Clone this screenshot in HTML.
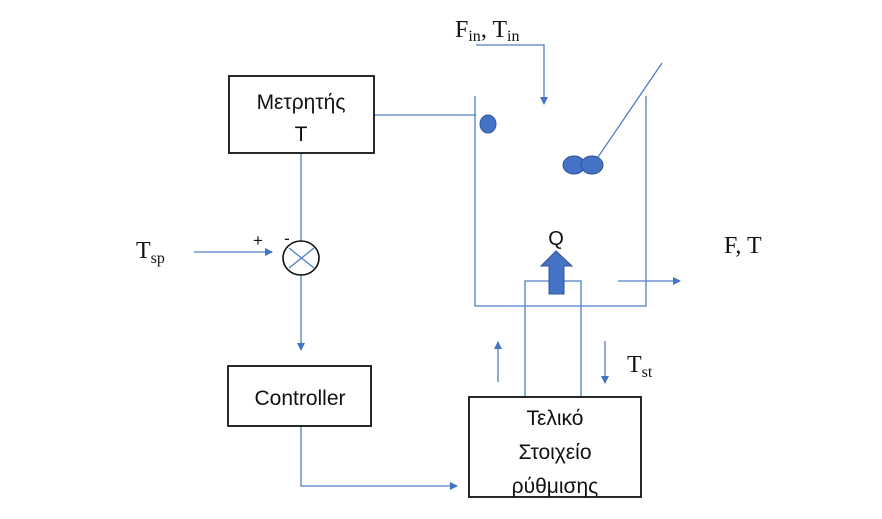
<!DOCTYPE html>
<html><head><meta charset="utf-8"><style>html,body{margin:0;padding:0;background:#fff}svg{display:block}</style></head>
<body>
<svg width="882" height="519" viewBox="0 0 882 519" xmlns="http://www.w3.org/2000/svg">
<defs>
<marker id="a" markerWidth="8" markerHeight="8" refX="7" refY="4" orient="auto" markerUnits="userSpaceOnUse"><path d="M0,0 L8,4 L0,8 z" fill="#4472c4"/></marker>
</defs>
<g stroke="#4f7fc4" stroke-width="1.3" fill="none">
<polyline points="475,96 475,306 646,306 646,96"/>
<polyline points="476,45 544,45 544,104" marker-end="url(#a)"/>
<line x1="662" y1="63" x2="596" y2="160"/>
<line x1="374" y1="115" x2="476" y2="115"/>
<line x1="301" y1="153" x2="301" y2="241"/>
<line x1="301" y1="275" x2="301" y2="350" marker-end="url(#a)"/>
<line x1="194" y1="252" x2="272" y2="252" marker-end="url(#a)"/>
<polyline points="525,397 525,281 581,281 581,397"/>
<line x1="618" y1="281" x2="680" y2="281" marker-end="url(#a)"/>
<line x1="498" y1="382" x2="498" y2="342" marker-end="url(#a)"/>
<line x1="605" y1="341" x2="605" y2="383" marker-end="url(#a)"/>
<polyline points="301,426 301,486 457,486" marker-end="url(#a)"/>
<line x1="289" y1="248" x2="314" y2="268"/>
<line x1="289" y1="268" x2="314" y2="248"/>
</g>
<ellipse cx="301" cy="258" rx="18" ry="17" fill="none" stroke="#111" stroke-width="1.6"/>
<ellipse cx="488" cy="124" rx="8" ry="9" fill="#4472c4" stroke="#2f5597"/>
<ellipse cx="574" cy="165" rx="11" ry="9" fill="#4472c4" stroke="#2f5597"/>
<ellipse cx="592" cy="165" rx="11" ry="9" fill="#4472c4" stroke="#2f5597"/>
<path d="M549,294 L549,266 L541,266 L556,251 L572,266 L564,266 L564,294 Z" fill="#4472c4" stroke="#2f5597"/>
<rect x="229" y="76" width="145" height="77" fill="#fff" stroke="#111" stroke-width="1.8"/>
<rect x="228" y="366" width="143" height="60" fill="#fff" stroke="#111" stroke-width="1.8"/>
<rect x="469" y="397" width="172" height="100" fill="#fff" stroke="#111" stroke-width="1.8"/>
<g font-family="Liberation Sans, DejaVu Sans, sans-serif" font-size="21" fill="#111" text-anchor="middle">
<text x="301" y="109">Μετρητής</text>
<text x="301" y="141">T</text>
<text x="300" y="405">Controller</text>
<text x="555" y="425">Τελικό</text>
<text x="555" y="459">Στοιχείο</text>
<text x="555" y="493">ρύθμισης</text>
<text x="556" y="245" font-size="20">Q</text>
<text x="258" y="246" font-size="17">+</text>
<text x="287" y="244" font-size="17">-</text>
</g>
<g font-family="Liberation Serif, DejaVu Serif, serif" font-size="24" fill="#111">
<text x="455" y="37">F<tspan font-size="16" dy="4">in</tspan><tspan dy="-4">, T</tspan><tspan font-size="16" dy="4">in</tspan></text>
<text x="136" y="258">T<tspan font-size="16" dy="5">sp</tspan></text>
<text x="724" y="253">F, T</text>
<text x="627" y="372">T<tspan font-size="16" dy="5">st</tspan></text>
</g>
</svg>
</body></html>
